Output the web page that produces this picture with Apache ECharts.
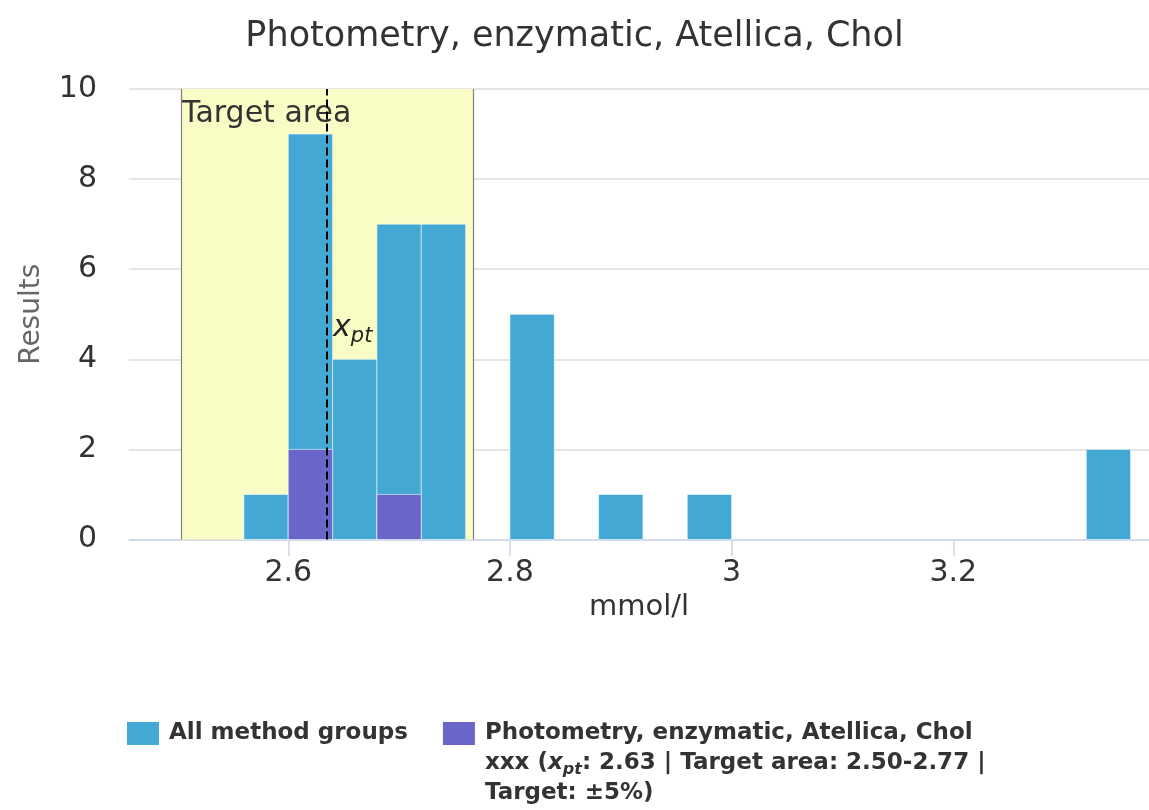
<!DOCTYPE html>
<html>
<head>
<meta charset="utf-8">
<script src="https://cdn.jsdelivr.net/npm/echarts@6/dist/echarts.min.js"></script>
<style>html,body{margin:0;padding:0;background:#fff}#c{width:1149px;height:810px}</style>
</head>
<body>
<div id="c"></div>
<script>
// ---- data ----
const titleText = 'Photometry, enzymatic, Atellica, Chol';
const xAxisName = 'mmol/l';
const yAxisName = 'Results';
const binStarts = [2.56, 2.60, 2.64, 2.68, 2.72, 2.80, 2.88, 2.96, 3.32];
const binWidth = 0.04;
const allCounts = [1, 9, 4, 7, 7, 5, 1, 1, 2];
const groupBinStarts = [2.60, 2.68];
const groupCounts = [2, 1];
const xpt = 2.635;
const targetLow = 2.50325;
const targetHigh = 2.76675;
const xTicks = [2.6, 2.8, 3.0, 3.2];
const xTickLabels = ['2.6', '2.8', '3', '3.2'];
const xMin = 2.4563, xMax = 3.3766;
const yMin = 0, yMax = 10, yStep = 2;
const seriesNames = ['All method groups', 'Photometry, enzymatic, Atellica, Chol xxx'];
const legendLines2 = ['Photometry, enzymatic, Atellica, Chol', 'xxx (', ': 2.63 | Target area: 2.50-2.77 |', 'Target: ±5%)'];
const targetLabel = 'Target area';
const xptLabelY = 4.7;

// ---- styles ----
const FONT = "'DejaVu Sans', sans-serif";
const BLUE = '#44a8d5';
const PURPLE = '#6a66c9';

function barRenderer(color) {
  return function (params, api) {
    const x0 = api.value(0), x1 = api.value(1), y = api.value(2);
    const p0 = api.coord([x0, 0]);
    const p1 = api.coord([x1, y]);
    return {
      type: 'rect',
      shape: { x: p0[0], y: p1[1], width: p1[0] - p0[0], height: p0[1] - p1[1] },
      style: { fill: color, stroke: 'rgba(255,255,255,0.55)', lineWidth: 1 }
    };
  };
}

const allData = binStarts.map((s, i) => [s, s + binWidth, allCounts[i]]);
const groupData = groupBinStarts.map((s, i) => [s, s + binWidth, groupCounts[i]]);

const richBase = {
  b: { fontFamily: FONT, fontWeight: 'bold', fontSize: 23, lineHeight: 30, color: '#333' },
  i: { fontFamily: FONT, fontWeight: 'bold', fontStyle: 'italic', fontSize: 23, lineHeight: 30, color: '#333' },
  s: { fontFamily: FONT, fontWeight: 'bold', fontStyle: 'italic', fontSize: 16, lineHeight: 30, color: '#333', padding: [12, 0, 0, 0] }
};

const chart = echarts.init(document.getElementById('c'), null, { renderer: 'canvas' });
chart.setOption({
  backgroundColor: '#ffffff',
  animation: false,
  title: {
    text: titleText,
    left: 'center',
    top: 14,
    textStyle: { fontFamily: FONT, fontSize: 35, fontWeight: 'normal', color: '#333333' }
  },
  grid: { left: 129, right: 0, top: 89, bottom: 810 - 539.5, containLabel: false },
  xAxis: {
    type: 'value',
    min: xMin,
    max: xMax,
    name: xAxisName,
    nameLocation: 'middle',
    nameGap: 49,
    nameTextStyle: { fontFamily: FONT, fontSize: 29, color: '#333333' },
    axisLine: { show: true, lineStyle: { color: '#ccd6eb', width: 1.5 } },
    axisTick: { show: true, customValues: xTicks, length: 17, lineStyle: { color: '#ccd6eb', width: 1.5 } },
    axisLabel: {
      customValues: xTicks,
      margin: 19,
      fontFamily: FONT,
      fontSize: 30,
      color: '#333333',
      formatter: function (v) {
        const idx = xTicks.findIndex(t => Math.abs(t - v) < 1e-9);
        return idx >= 0 ? xTickLabels[idx] : '';
      }
    },
    splitLine: { show: false }
  },
  yAxis: {
    type: 'value',
    min: yMin,
    max: yMax,
    interval: yStep,
    name: yAxisName,
    nameLocation: 'middle',
    nameRotate: 90,
    nameGap: 83,
    nameTextStyle: { fontFamily: FONT, fontSize: 28, color: '#666666' },
    axisLine: { show: false },
    axisTick: { show: false },
    axisLabel: { margin: 32, fontFamily: FONT, fontSize: 30, color: '#333333' },
    splitLine: { show: true, lineStyle: { color: '#dcdcdc', width: 1.5 } }
  },
  legend: {
    data: [
      { name: seriesNames[0], textStyle: { padding: [0, 0, 0, 5], rich: richBase } },
      { name: seriesNames[1], textStyle: { padding: [60, 0, 0, 5], rich: richBase } }
    ],
    left: 127,
    top: 722,
    padding: 0,
    itemGap: 35,
    itemWidth: 32,
    itemHeight: 23,
    icon: 'rect',
    selectedMode: false,
    textStyle: { fontFamily: FONT, fontWeight: 'bold', fontSize: 23, color: '#333', rich: richBase },
    formatter: function (name) {
      if (name === seriesNames[0]) return '{b|' + name + '}';
      return '{b|' + legendLines2[0] + '}\n{b|' + legendLines2[1] + '}{i|x}{s|pt}{b|' + legendLines2[2] + '}\n{b|' + legendLines2[3] + '}';
    }
  },
  series: [
    {
      name: '_target',
      type: 'line',
      data: [],
      z: 1,
      silent: true,
      markArea: {
        silent: true,
        itemStyle: { color: '#fafcc5', borderWidth: 0 },
        label: {
          show: true,
          position: 'insideTopLeft',
          distance: 0,
          offset: [1, 10],
          fontFamily: FONT,
          fontSize: 30,
          color: '#333333',
          formatter: targetLabel
        },
        data: [[{ xAxis: targetLow, yAxis: yMin }, { xAxis: targetHigh, yAxis: yMax }]]
      },
      markLine: {
        silent: true,
        precision: 6,
        symbol: ['none', 'none'],
        label: { show: false },
        lineStyle: { color: '#7f7f7f', width: 1.2, type: 'solid' },
        data: [{ xAxis: targetLow }, { xAxis: targetHigh }]
      }
    },
    {
      name: seriesNames[0],
      type: 'custom',
      z: 2,
      itemStyle: { color: BLUE },
      renderItem: barRenderer(BLUE),
      encode: { x: [0, 1], y: 2 },
      data: allData
    },
    {
      name: seriesNames[1],
      type: 'custom',
      z: 3,
      itemStyle: { color: PURPLE },
      renderItem: barRenderer(PURPLE),
      encode: { x: [0, 1], y: 2 },
      data: groupData
    },
    {
      name: '_xpt',
      type: 'line',
      data: [],
      z: 5,
      silent: true,
      markLine: {
        silent: true,
        precision: 6,
        symbol: ['none', 'none'],
        label: { show: false },
        lineStyle: { color: '#000000', width: 2, type: [8, 4] },
        data: [{ xAxis: xpt }]
      },
      markPoint: {
        silent: true,
        symbol: 'circle',
        symbolSize: 0,
        label: {
          show: true,
          position: 'right',
          distance: 6,
          formatter: '{x|x}{p|pt}',
          rich: {
            x: { fontFamily: FONT, fontStyle: 'italic', fontSize: 30, color: '#222', lineHeight: 34 },
            p: { fontFamily: FONT, fontStyle: 'italic', fontSize: 21, color: '#222', lineHeight: 34, padding: [18, 0, 0, 0] }
          }
        },
        data: [{ coord: [xpt, xptLabelY] }]
      }
    }
  ]
});
</script>
</body>
</html>
